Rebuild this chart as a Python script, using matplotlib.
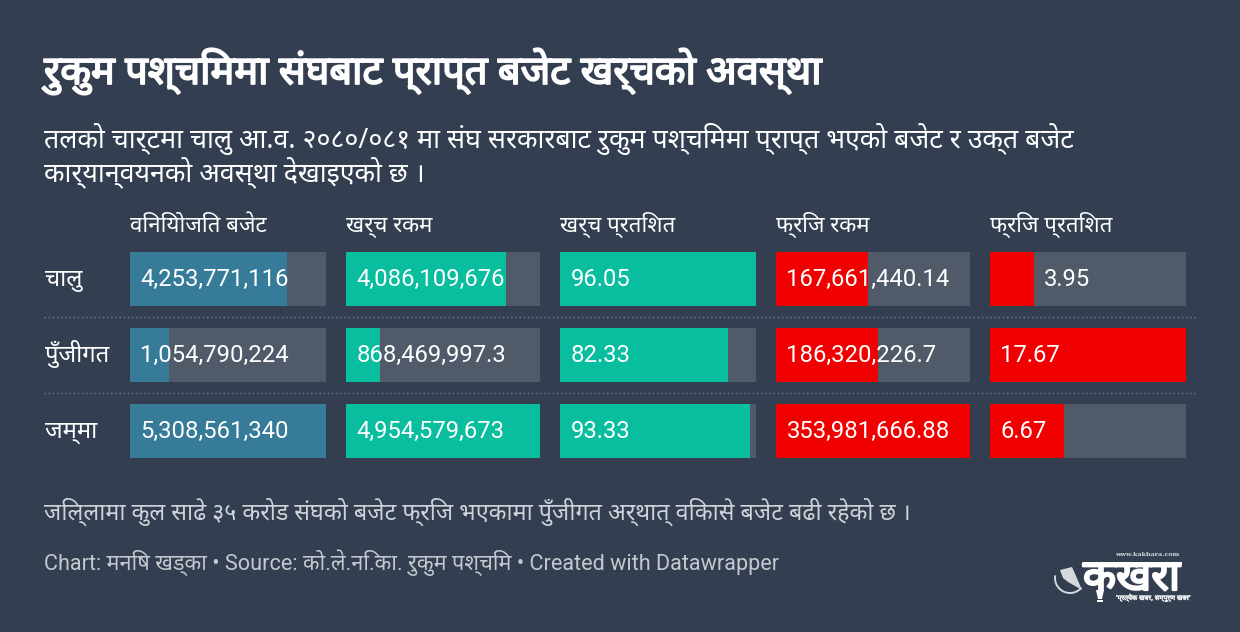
import matplotlib
matplotlib.use("Agg")
import matplotlib.pyplot as plt
from matplotlib.patches import Arc, Polygon, Rectangle
import matplotlib.patheffects as pe

plt.rcParams['font.family'] = ['Roboto', 'Noto Sans', 'DejaVu Sans']
DEV = ['Noto Sans', 'Roboto', 'DejaVu Sans']

BG = "#333f50"
title = "रुकुम पश्चिममा संघबाट प्राप्त बजेट खर्चको अवस्था"
subtitle = ["तलको चार्टमा चालु आ.व. २०८०/०८१ मा संघ सरकारबाट रुकुम पश्चिममा प्राप्त भएको बजेट र उक्त बजेट",
            "कार्यान्वयनको अवस्था देखाइएको छ ।"]
note = "जिल्लामा कुल साढे ३५ करोड संघको बजेट फ्रिज भएकामा पुँजीगत अर्थात् विकासे बजेट बढी रहेको छ ।"
footer = "Chart: मनिष खड्का • Source: को.ले.नि.का. रुकुम पश्चिम • Created with Datawrapper"

columns = ["विनियोजित बजेट", "खर्च रकम", "खर्च प्रतिशत", "फ्रिज रकम", "फ्रिज प्रतिशत"]
rows = ["चालु", "पुँजीगत", "जम्मा"]
allocated = [4253771116, 1054790224, 5308561340]
spent = [4086109676, 868469997.3, 4954579673]
spent_pct = [96.05, 82.33, 93.33]
frozen = [167661440.14, 186320226.7, 353981666.88]
frozen_pct = [3.95, 17.67, 6.67]
labels = [
    ["4,253,771,116", "1,054,790,224", "5,308,561,340"],
    ["4,086,109,676", "868,469,997.3", "4,954,579,673"],
    ["96.05", "82.33", "93.33"],
    ["167,661,440.14", "186,320,226.7", "353,981,666.88"],
    ["3.95", "17.67", "6.67"],
]
series = [allocated, spent, spent_pct, frozen, frozen_pct]
colors = ["#367b97", "#09bd9f", "#09bd9f", "#f00000", "#f00000"]
track = "#505a69"
lefts = [130, 346, 560, 776, 990]
widths = [196, 194, 196, 194, 196]
tops = [252, 328, 404]
h = 54

W, H = 1240, 632
fig = plt.figure(figsize=(W/100, H/100), dpi=100, facecolor=BG)
ax = fig.add_axes([0, 0, 1, 1])
ax.set_xlim(0, W); ax.set_ylim(H, 0); ax.axis("off")

def bold(w):
    return [pe.withStroke(linewidth=w, foreground="white")]

ax.text(44, 84, title, color="white", fontsize=28.7, family=DEV, va="baseline", path_effects=bold(1.3))
ax.text(44, 148, subtitle[0], color="white", fontsize=19.25, family=DEV, va="baseline")
ax.text(44, 181, subtitle[1], color="white", fontsize=19.25, family=DEV, va="baseline")

for c, name in enumerate(columns):
    ax.text(lefts[c], 232, name, color="white", fontsize=16, family=DEV, va="baseline")
    mx = max(series[c])
    for r in range(len(rows)):
        cy = tops[r] + h/2
        ax.barh(cy, widths[c], height=h, left=lefts[c], color=track, linewidth=0)
        bw = series[c][r]/mx*widths[c]
        ax.barh(cy, bw, height=h, left=lefts[c], color=colors[c], linewidth=0)
        lx = lefts[c] + 10.5
        if c == 4 and bw < 50:          # narrow bar: label sits just past its end
            lx = lefts[c] + bw + 10.5
        ax.text(lx, tops[r] + 34, labels[c][r], color="white", fontsize=17.2, va="baseline")

for r, rn in enumerate(rows):
    ax.text(45, tops[r] + 34, rn, color="white", fontsize=17.2, family=DEV, va="baseline")

for y in (317, 393):
    ax.plot([44, 1196], [y, y], color="#727b88", lw=1, ls=(0, (1, 2)))

ax.text(44, 520, note, color="#cfd3d9", fontsize=16.75, family=DEV, va="baseline")
ax.text(44, 570, footer, color="#c4c8ce", fontsize=15.6, va="baseline")

# Kakhara logo
ax.text(1083, 590, "कखरा", color="white", fontsize=31, family=DEV, va="baseline",
        path_effects=bold(1.6))
ax.add_patch(Rectangle((1083, 562), 99, 3, fc="white", ec="none"))
ax.text(1115, 556, "www.kakhara.com", color="#d5d8dc", fontsize=4.6, fontweight="bold", va="baseline",
        family="DejaVu Serif")
ax.text(1116, 600, "'प्रत्येक खबर, सम्पूर्ण खबर'", color="#e6e8ea", fontsize=4.9, family=DEV, va="baseline",
        path_effects=bold(0.3))
ax.add_patch(Arc((1070, 578), 30, 30, theta1=40, theta2=190, color="#d5d8dc", lw=1.4))
ax.add_patch(Polygon([(1060, 570), (1072, 567), (1076, 576), (1082, 590), (1068, 582), (1063, 578)],
                     fc="#d5d8dc", ec="none"))
ax.add_patch(Polygon([(1096, 590), (1104, 590), (1102, 599), (1098, 599)], fc="white", ec="none"))
ax.add_patch(Rectangle((1097, 600), 6, 1.5, fc="white", ec="none"))

fig.savefig("out.png", dpi=100, facecolor=BG)
